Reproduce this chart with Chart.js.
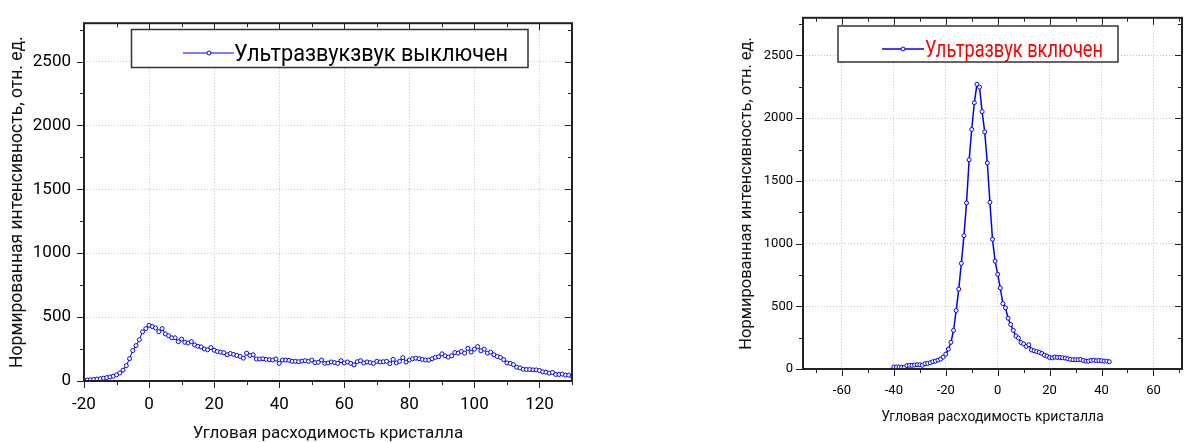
<!DOCTYPE html>
<html>
<head>
<meta charset="utf-8">
<script src="https://cdn.jsdelivr.net/npm/chart.js@4.4.0/dist/chart.umd.min.js"></script>
<style>
  body { margin: 0; background: #fff; }
  .wrap { position: absolute; top: 0; height: 442px; }
  #off-wrap { left: 0; width: 590px; }
  #on-wrap { left: 700px; width: 487px; }
</style>
</head>
<body>
<div class="wrap" id="off-wrap"><canvas id="chart-off" width="590" height="442"></canvas></div>
<div class="wrap" id="on-wrap"><canvas id="chart-on" width="487" height="442"></canvas></div>
<script>
// texts
const yTitle = "Нормированная интенсивность, отн. ед.";
const xTitle = "Угловая расходимость кристалла";
const offLabel = "Ультразвукзвук выключен";
const onLabel = "Ультразвук включен";

// tick labels
const offXTicks = [-20, 0, 20, 40, 60, 80, 100, 120];
const onXTicks = [-60, -40, -20, 0, 20, 40, 60];
const yTicks = [0, 500, 1000, 1500, 2000, 2500];

// ultrasound off
const offAngles = [
  -20, -19, -18, -17, -16, -15, -14, -13, -12, -11,
  -10, -9, -8, -7, -6, -5, -4, -3, -2, -1,
  0, 1, 2, 3, 4, 5, 6, 7, 8, 9,
  10, 11, 12, 13, 14, 15, 16, 17, 18, 19,
  20, 21, 22, 23, 24, 25, 26, 27, 28, 29,
  30, 31, 32, 33, 34, 35, 36, 37, 38, 39,
  40, 41, 42, 43, 44, 45, 46, 47, 48, 49,
  50, 51, 52, 53, 54, 55, 56, 57, 58, 59,
  60, 61, 62, 63, 64, 65, 66, 67, 68, 69,
  70, 71, 72, 73, 74, 75, 76, 77, 78, 79,
  80, 81, 82, 83, 84, 85, 86, 87, 88, 89,
  90, 91, 92, 93, 94, 95, 96, 97, 98, 99,
  100, 101, 102, 103, 104, 105, 106, 107, 108, 109,
  110, 111, 112, 113, 114, 115, 116, 117, 118, 119,
  120, 121, 122, 123, 124, 125, 126, 127, 128, 129, 130
];
const offValues = [
  5, 8, 10, 12, 15, 18, 22, 27, 32, 38,
  48, 63, 85, 120, 175, 238, 277, 323, 385, 410,
  436, 426, 415, 385, 410, 369, 354, 338, 338, 308,
  328, 303, 297, 308, 282, 272, 267, 251, 244, 262,
  241, 231, 226, 221, 205, 215, 208, 200, 192, 179,
  218, 200, 205, 172, 172, 174, 169, 167, 164, 172,
  138, 164, 164, 162, 154, 154, 151, 156, 159, 154,
  164, 144, 146, 164, 138, 141, 149, 144, 138, 159,
  141, 149, 138, 126, 151, 159, 141, 149, 144, 138,
  154, 149, 151, 154, 136, 169, 141, 154, 183, 148,
  164, 174, 179, 174, 169, 164, 164, 174, 185, 190,
  213, 197, 187, 197, 223, 218, 231, 218, 256, 226,
  249, 269, 236, 249, 218, 226, 205, 192, 185, 167,
  141, 138, 128, 108, 103, 92, 90, 90, 87, 87,
  82, 72, 69, 62, 67, 51, 51, 54, 46, 46, 36
];

// ultrasound on
const onAngles = [
  -40, -39, -38, -37, -36, -35, -34, -33, -32, -31,
  -30, -29, -28, -27, -26, -25, -24, -23, -22, -21,
  -20, -19, -18, -17, -16, -15, -14, -13, -12, -11,
  -10, -9, -8, -7, -6, -5, -4, -3, -2, -1,
  0, 1, 2, 3, 4, 5, 6, 7, 8, 9,
  10, 11, 12, 13, 14, 15, 16, 17, 18, 19,
  20, 21, 22, 23, 24, 25, 26, 27, 28, 29,
  30, 31, 32, 33, 34, 35, 36, 37, 38, 39,
  40, 41, 42, 43
];
const onValues = [
  16, 16, 16, 14, 12, 27, 29, 29, 32, 34,
  34, 30, 42, 45, 50, 58, 63, 71, 79, 95,
  118, 158, 213, 308, 466, 637, 842, 1063, 1324, 1668,
  1910, 2123, 2270, 2247, 2052, 1891, 1643, 1329, 1034, 860,
  755, 646, 522, 488, 405, 355, 308, 263, 247, 211,
  200, 180, 193, 152, 145, 139, 133, 124, 110, 103,
  92, 89, 95, 92, 92, 89, 87, 82, 76, 74,
  74, 74, 76, 68, 63, 63, 68, 71, 66, 68,
  66, 63, 63, 58
];

const fontFamily = "Roboto, 'Liberation Sans', Arial, sans-serif";

// box round the plot plus the small tick marks (out on bottom/left, in on top/right)
const frameBox = {
  id: "frameBox",
  afterDatasetsDraw(chart, args, opts) {
    const ctx = chart.ctx;
    const a = chart.chartArea;
    const xs = chart.scales.x;
    const ys = chart.scales.y;
    ctx.save();
    ctx.strokeStyle = opts.color;
    ctx.lineWidth = 1;
    ctx.beginPath();
    for (let v = Math.ceil(xs.min / opts.xMinor) * opts.xMinor; v <= xs.max; v += opts.xMinor) {
      const px = Math.round(xs.getPixelForValue(v)) + 0.5;
      const len = v % (opts.xMinor * 2) === 0 ? opts.major : opts.minor;
      ctx.moveTo(px, a.bottom); ctx.lineTo(px, a.bottom + len);
      ctx.moveTo(px, a.top); ctx.lineTo(px, a.top + len);
    }
    for (let v = Math.ceil(ys.min / opts.yMinor) * opts.yMinor; v <= ys.max; v += opts.yMinor) {
      const py = Math.round(ys.getPixelForValue(v)) + 0.5;
      const len = v % (opts.yMinor * 2) === 0 ? opts.major : opts.minor;
      ctx.moveTo(a.left, py); ctx.lineTo(a.left - len, py);
      ctx.moveTo(a.right, py); ctx.lineTo(a.right - len, py);
    }
    ctx.stroke();
    ctx.lineWidth = opts.width;
    ctx.strokeRect(a.left, a.top, a.right - a.left, a.bottom - a.top);
    ctx.restore();
  }
};

// legend box in the top of the plot, like the original plot program draws it
const legendBox = {
  id: "legendBox",
  afterDraw(chart, args, opts) {
    const ctx = chart.ctx;
    const ds = chart.data.datasets[0];
    const [x1, y1, x2, y2] = opts.box;
    ctx.save();
    ctx.fillStyle = "#fff";
    ctx.fillRect(x1, y1, x2 - x1, y2 - y1);
    ctx.strokeStyle = "#333";
    ctx.lineWidth = 1.5;
    ctx.strokeRect(x1, y1, x2 - x1, y2 - y1);
    ctx.strokeStyle = ds.borderColor;
    ctx.lineWidth = ds.borderWidth;
    ctx.beginPath();
    ctx.moveTo(opts.lineX[0], opts.lineY);
    ctx.lineTo(opts.lineX[1], opts.lineY);
    ctx.stroke();
    ctx.beginPath();
    ctx.arc(opts.markerX, opts.lineY, ds.pointRadius, 0, Math.PI * 2);
    ctx.fillStyle = "#fff";
    ctx.fill();
    ctx.lineWidth = 1;
    ctx.stroke();
    ctx.fillStyle = opts.color;
    ctx.font = opts.font;
    ctx.textBaseline = "alphabetic";
    ctx.textAlign = "left";
    ctx.fillText(ds.label, opts.textX, opts.baseline, opts.textWidth);
    ctx.restore();
  }
};

function makeChart(canvasId, s) {
  const points = s.angles.map(function (a, i) {
    return { x: a, y: s.values[i] };
  });
  return new Chart(document.getElementById(canvasId), {
    type: "line",
    data: {
      datasets: [
        {
          label: s.label,
          data: points,
          borderColor: "#0000ff",
          borderWidth: s.lineWidth,
          pointRadius: 2,
          pointBorderWidth: 1,
          pointBackgroundColor: "#fff",
          pointBorderColor: "#0000ff",
          tension: 0,
        },
      ],
    },
    options: {
      responsive: false,
      animation: false,
      layout: { padding: { top: s.top, right: s.right, left: 0, bottom: 0 } },
      plugins: {
        legend: { display: false },
        tooltip: { enabled: false },
        frameBox: { color: "#222", width: 2, major: 7, minor: 4, xMinor: 10, yMinor: 250 },
        legendBox: s.legend,
      },
      scales: {
        x: {
          type: "linear",
          min: s.xMin,
          max: s.xMax,
          afterBuildTicks: function (scale) {
            scale.ticks = s.xTicks.map(function (v) { return { value: v }; });
          },
          afterFit: function (scale) { scale.height = s.xHeight; },
          grid: { color: "#c4c4c4", lineWidth: 1, drawTicks: false, borderDash: [1, 2] },
          border: { display: false, dash: [1, 2] },
          ticks: {
            autoSkip: false,
            maxRotation: 0,
            padding: s.xPad,
            color: "#000",
            font: { family: fontFamily, size: s.tickSize },
            callback: function (v) { return String(v); },
          },
          title: {
            display: true,
            text: xTitle,
            color: "#111",
            font: { family: fontFamily, size: s.xTitleSize, lineHeight: 1 },
            padding: { top: 0, bottom: s.xTitlePad },
          },
        },
        y: {
          min: 0,
          max: 2800,
          afterBuildTicks: function (scale) {
            scale.ticks = yTicks.map(function (v) { return { value: v }; });
          },
          afterFit: function (scale) { scale.width = s.yWidth; },
          grid: { color: "#c4c4c4", lineWidth: 1, drawTicks: false, borderDash: [1, 2] },
          border: { display: false, dash: [1, 2] },
          ticks: {
            padding: s.yPad,
            color: "#000",
            font: { family: fontFamily, size: s.tickSize },
            callback: function (v) { return String(v); },
          },
          title: {
            display: true,
            text: yTitle,
            color: "#111",
            font: { family: fontFamily, size: s.yTitleSize, lineHeight: 1 },
            padding: { top: s.yTitlePad, bottom: 0 },
          },
        },
      },
    },
    plugins: [frameBox, legendBox],
  });
}

makeChart("chart-off", {
  label: offLabel,
  angles: offAngles,
  values: offValues,
  xTicks: offXTicks,
  xMin: -20,
  xMax: 130,
  lineWidth: 1,
  top: 15,
  right: 18,
  yWidth: 84,
  xHeight: 61,
  tickSize: 17,
  xPad: 14,
  yPad: 13,
  xTitleSize: 17,
  xTitlePad: 0,
  yTitleSize: 17.5,
  yTitlePad: 9,
  legend: {
    box: [131.5, 29.5, 528, 67.5],
    lineX: [183, 234],
    lineY: 53,
    markerX: 209,
    textX: 234,
    baseline: 61,
    textWidth: 274,
    font: "24px " + fontFamily,
    color: "#000",
  },
});

makeChart("chart-on", {
  label: onLabel,
  angles: onAngles,
  values: onValues,
  xTicks: onXTicks,
  xMin: -75,
  xMax: 71,
  lineWidth: 1.5,
  top: 15,
  right: 2,
  yWidth: 103,
  xHeight: 73,
  tickSize: 13,
  xPad: 14,
  yPad: 10,
  xTitleSize: 14,
  xTitlePad: 18,
  yTitleSize: 16.5,
  yTitlePad: 39,
  legend: {
    box: [138, 26, 418, 62],
    lineX: [182, 224],
    lineY: 49,
    markerX: 203,
    textX: 225,
    baseline: 57,
    textWidth: 178,
    font: "24px " + fontFamily,
    color: "#ff0000",
  },
});
</script>
</body>
</html>
